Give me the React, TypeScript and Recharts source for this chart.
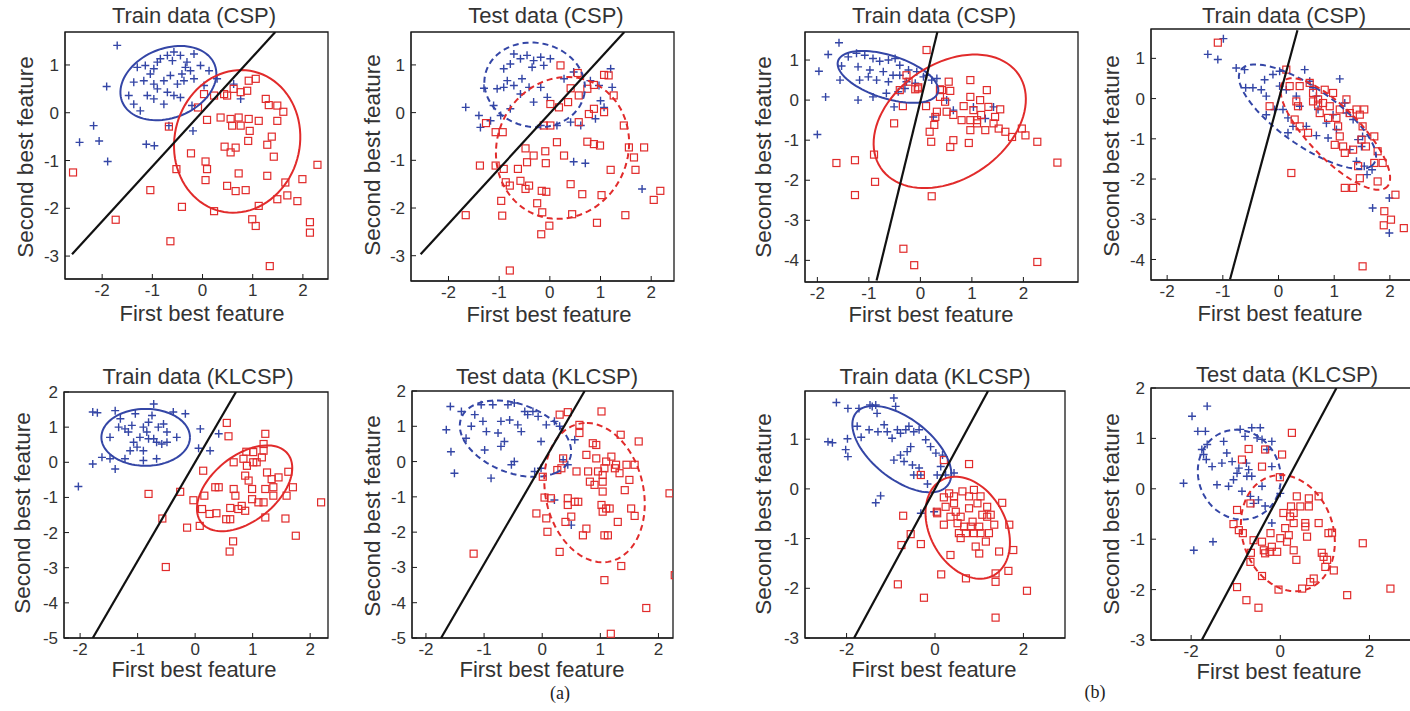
import React from 'react'
import { ScatterChart, Scatter, XAxis, YAxis, ReferenceArea } from 'recharts'

type Pt = [number, number]
// ellipse: [centerX, centerY, semiAxisA, semiAxisB, angleDeg]
type Ell = [number, number, number, number, number]

// ---- (a) Train data (CSP)
const p1Blue: Pt[] = [
  [-1.7, 1.41], [-1.91, 0.55], [-2.17, -0.27], [-2.45, -0.62], [-2.06, -0.59], [-1.89, -1.02], [-1.12, -0.66],
  [-0.96, -0.69], [-0.67, -0.27], [-0.19, -0.38], [-1.3, 0.95], [-1.14, 0.99], [-0.97, 0.92], [-0.84, 1.13],
  [-0.7, 1.2], [-0.57, 1.27], [-0.44, 1.2], [-0.31, 1.06], [-0.17, 1.23], [-0.04, 0.99], [0.13, 0.88],
  [-0.24, 0.88], [-0.41, 0.81], [-0.64, 0.78], [-0.77, 0.67], [-0.97, 0.6], [-1.17, 0.67], [-1.37, 0.64],
  [-1.47, 0.36], [-1.37, 0.18], [-1.1, 0.36], [-0.9, 0.5], [-0.7, 0.43], [-0.5, 0.6], [-0.37, 0.67],
  [-0.57, 0.36], [-0.44, 0.32], [-0.77, 0.18], [-0.97, 0.29], [-0.17, 0.71], [0.03, 0.57], [0.29, 0.71],
  [0.62, 0.6], [0.76, 0.29], [-0.21, 0.15], [-1.24, 0.04], [-0.6, 1.09], [-1.04, 0.81], [-0.34, 0.95], [-0.9, 1.06],
]
const p1Red: Pt[] = [
  [-2.58, -1.25], [-1.73, -2.24], [-1.04, -1.62], [-0.64, -2.69], [-0.41, -1.97], [-0.52, -1.18], [-0.67, -0.29],
  [-0.09, 0.11], [0.03, 0.39], [0.23, 0.36], [0.43, 0.39], [0.49, 0.36], [0.62, 0.5], [0.76, 0.43], [0.89, 0.46],
  [0.92, 0.67], [1.06, 0.71], [0.09, -0.15], [0.36, -0.1], [0.56, -0.13], [0.72, -0.1], [0.59, -0.27], [0.76, -0.27],
  [0.92, -0.13], [1.12, -0.17], [0.94, -0.38], [1.32, 0.16], [1.49, 0.15], [1.61, 0.02], [1.26, 0.29], [1.49, -0.17],
  [1.38, -0.5], [1.29, -0.67], [1.42, -0.92], [0.91, -0.59], [0.44, -0.71], [0.66, -0.73], [0.56, -0.83],
  [-0.23, -0.85], [0.06, -1.02], [0.09, -1.18], [0.06, -1.41], [0.72, -1.27], [1.29, -1.32], [0.49, -1.53],
  [0.66, -1.64], [0.86, -1.62], [0.23, -2.06], [1.12, -1.95], [1.49, -1.81], [1.69, -1.73], [1.65, -1.46],
  [1.89, -1.85], [1.99, -1.39], [2.29, -1.09], [0.99, -2.23], [1.06, -2.37], [2.14, -2.29], [2.14, -2.51], [1.34, -3.21],
]
const p1BlueEll: Ell = [-0.68, 0.62, 1.0, 0.72, 25]
const p1RedEll: Ell = [0.69, -0.6, 1.5, 1.25, 80]
const p1Line: Pt[] = [[-2.6, -2.96], [1.45, 1.69]]

// ---- (a) Test data (CSP)
const p2Blue: Pt[] = [
  [-1.66, 0.11], [-1.4, -0.06], [-1.37, -0.31], [-1.17, -0.17], [-0.97, -0.06], [-1.11, 0.15], [-1.3, 0.51],
  [-1.04, 0.5], [-0.91, 0.53], [-0.84, 0.67], [-0.91, 0.92], [-0.71, 1.23], [-0.58, 1.13], [-0.45, 1.2],
  [-0.32, 1.09], [-0.18, 1.16], [0.01, 1.13], [-0.12, 0.99], [-0.35, 0.95], [-0.55, 0.71], [-0.71, 0.57],
  [-0.58, 0.39], [-0.32, 0.22], [-0.18, 0.53], [-0.05, 0.32], [-0.41, 0.53], [-0.78, 1.02], [0.28, 0.71],
  [0.47, 0.85], [0.8, 0.67], [0.97, 0.57], [1.2, 0.92], [1.23, 0.53], [1.0, 0.25], [1.07, 0.11], [0.9, -0.13],
  [0.61, -0.27], [0.41, -0.2], [0.14, -0.27], [0.47, -1.03], [0.7, -1.06], [1.82, -1.6], [-0.18, -0.27], [-0.78, 0.08],
]
const p2Red: Pt[] = [
  [-1.66, -2.15], [-1.38, -1.11], [-1.26, -0.22], [-1.07, -0.41], [-0.93, -0.41], [-1.07, -1.11], [-0.91, -1.18],
  [-0.87, -1.46], [-0.79, -1.53], [-0.96, -1.85], [-0.94, -2.16], [-0.63, -1.18], [-0.58, -1.43], [-0.48, -1.6],
  [-0.41, -1.53], [-0.45, -1.04], [-0.48, -0.75], [-0.32, -0.9], [-0.09, -0.81], [-0.08, -1.06], [-0.16, -1.64],
  [-0.07, -1.66], [-0.25, -1.9], [-0.15, -2.09], [-0.01, -2.37], [-0.17, -2.55], [-0.79, -3.31], [-0.12, -0.27],
  [0.01, -0.27], [0.01, 0.18], [0.18, 0.11], [0.36, 0.22], [0.14, -0.62], [0.28, -0.9], [0.41, -1.5], [0.64, -1.71],
  [0.44, -2.13], [0.93, -2.31], [1.02, -1.73], [1.2, -1.2], [0.74, -0.61], [0.87, -0.66], [0.99, -0.69],
  [1.46, -0.27], [1.56, -0.73], [1.66, -0.94], [1.69, -1.2], [1.86, -0.73], [2.05, -1.83], [2.18, -1.64],
  [1.49, -2.15], [0.21, 0.99], [0.41, 0.51], [0.57, 0.36], [0.55, 0.83], [0.74, 0.5], [0.87, 0.58], [1.07, 0.79],
  [1.16, 0.78], [1.26, 0.36], [0.77, -0.03], [0.87, 0.08], [1.07, 0.01], [0.57, -0.2],
]
const p2BlueEll: Ell = [-0.3, 0.58, 1.0, 0.88, -15]
const p2RedEll: Ell = [0.25, -0.74, 1.5, 1.3, 75]
const p2Line: Pt[] = [[-2.55, -2.97], [1.47, 1.69]]

// ---- (b) Train data (CSP)
const p3Blue: Pt[] = [
  [-1.79, 1.14], [-1.58, 1.43], [-1.97, 0.72], [-1.84, 0.08], [-2.0, -0.86], [-1.53, 0.85], [-1.4, 1.08],
  [-1.24, 1.17], [-1.08, 1.12], [-0.92, 1.04], [-0.79, 0.97], [-0.62, 1.0], [-0.49, 1.04], [-0.4, 0.87],
  [-0.23, 0.75], [-0.07, 0.71], [0.06, 0.58], [0.22, 0.5], [-1.21, 0.83], [-1.01, 0.58], [-0.85, 0.5],
  [-0.72, 0.71], [-0.62, 0.46], [-0.53, 0.62], [-0.4, 0.62], [-0.27, 0.46], [-0.1, 0.42], [-0.98, 0.75],
  [-1.18, 0.5], [-0.92, 0.08], [-1.21, 0.0], [-0.66, 0.17], [-0.43, 0.21], [-0.3, 0.29], [0.32, 0.54],
  [-0.51, -0.17], [0.25, -0.42], [0.64, -0.25], [1.03, -0.17], [1.26, -0.46], [1.42, -0.17], [0.51, 0.0],
  [0.12, 0.62], [-1.56, 0.5],
]
const p3Red: Pt[] = [
  [-1.63, -1.57], [-1.27, -1.5], [-1.27, -2.37], [-0.88, -2.04], [-0.9, -1.36], [-0.51, -0.58], [-0.34, -0.15],
  [-0.4, 0.25], [-0.27, 0.62], [-0.23, 0.46], [-0.1, 0.27], [-0.04, 0.32], [0.12, 1.25], [0.21, -1.04],
  [0.22, -2.4], [-0.33, -3.71], [-0.12, -4.12], [2.27, -4.04], [2.66, -1.56], [2.27, -1.04], [2.04, -0.88],
  [1.97, -0.71], [1.78, -0.92], [1.65, -0.79], [1.52, -0.71], [1.55, -0.23], [1.45, -0.42], [1.32, -0.17],
  [1.29, 0.25], [1.26, -0.75], [1.16, 0.0], [1.18, -0.37], [1.1, -0.5], [1.03, -0.25], [0.97, 0.5], [0.97, 0.08],
  [0.97, -0.5], [0.97, -0.75], [0.94, -1.07], [0.84, -0.15], [0.8, -0.5], [0.64, -0.37], [0.55, 0.46],
  [0.58, 0.23], [0.48, -0.04], [0.42, 0.25], [0.38, 0.08], [0.32, -0.29], [0.29, -0.42], [0.27, -0.62],
  [0.18, -0.79], [0.11, -0.15], [0.58, -1.17], [0.64, -1.0], [0.51, -0.29], [1.42, -0.58], [1.1, -0.58],
  [0.38, 0.27], [-0.05, 0.29],
]
const p3BlueEll: Ell = [-0.63, 0.58, 1.05, 0.52, -25]
const p3RedEll: Ell = [0.57, -0.53, 1.83, 1.27, 55]
const p3Line: Pt[] = [[-0.85, -4.5], [0.33, 1.7]]

// ---- (b) Train data (CSP), second panel
const p4Blue: Pt[] = [
  [-1.27, 1.1], [-1.09, 0.97], [-0.99, 1.49], [-0.76, 0.76], [-0.61, 0.72], [-0.59, 0.27], [-0.46, 0.27],
  [-0.31, 0.22], [-0.22, 0.06], [-0.25, 0.47], [-0.1, 0.6], [0.02, 0.68], [0.02, 0.31], [0.14, 0.22],
  [-0.07, -0.27], [0.08, -0.27], [0.17, -0.48], [0.17, -0.85], [0.32, 0.06], [0.38, -0.19], [0.47, 0.72],
  [0.56, 0.43], [0.62, 0.27], [0.68, 0.06], [0.71, -0.27], [0.68, -0.92], [0.89, -0.98], [0.86, -0.61],
  [0.98, -0.4], [1.1, 0.49], [1.19, -0.11], [1.22, -0.36], [1.34, -0.52], [1.43, -1.02], [1.49, -1.19],
  [1.51, -0.94], [1.4, -1.56], [1.54, -1.68], [1.59, -1.89], [1.68, -1.77], [1.69, -2.72], [1.99, -2.47],
  [1.99, -3.34], [0.26, -0.69], [-0.22, -0.4], [0.5, -0.69], [1.04, -0.77], [1.28, -1.27],
]
const p4Red: Pt[] = [
  [-1.09, 1.39], [0.14, 0.72], [0.2, 0.31], [0.38, 0.31], [0.56, 0.39], [0.32, -0.07], [0.35, -0.19],
  [0.29, -0.52], [0.38, -0.69], [0.53, -0.85], [0.23, -1.85], [-0.16, -0.19], [0.62, 0.14], [0.71, -0.02],
  [0.8, -0.11], [0.83, 0.22], [0.74, -0.36], [0.89, -0.48], [0.92, -0.19], [1.04, -0.48], [1.07, -0.69],
  [1.1, -0.94], [1.01, -1.15], [1.16, -1.19], [1.19, -1.35], [1.22, -0.02], [1.28, -0.36], [1.4, -0.27],
  [1.46, -0.4], [1.54, -0.27], [1.51, -0.69], [1.49, -1.02], [1.57, -1.19], [1.34, -1.27], [1.43, -1.68],
  [1.46, -1.98], [1.34, -2.22], [1.19, -2.22], [1.72, -0.94], [1.78, -1.31], [1.72, -1.6], [1.87, -1.6],
  [1.78, -2.06], [2.1, -2.39], [1.9, -2.8], [2.02, -3.01], [1.89, -3.15], [2.25, -3.22], [1.51, -4.17],
  [0.62, -0.07], [0.98, 0.14], [0.71, -0.15], [1.1, -0.27],
]
const p4BlueEll: Ell = [0.52, -0.45, 1.68, 0.62, -47]
const p4RedEll: Ell = [1.02, -0.88, 1.62, 0.52, -57]
const p4Line: Pt[] = [[-0.87, -4.49], [0.34, 1.7]]

// ---- (a) Train data (KLCSP)
const p5Blue: Pt[] = [
  [-1.78, 1.43], [-1.7, 1.41], [-1.78, -0.05], [-2.03, -0.69], [-1.39, -0.19], [-1.62, 0.14], [-1.48, 0.1],
  [-1.39, 1.47], [-1.3, 1.24], [-1.33, 1.0], [-1.48, 0.71], [-1.22, 0.95], [-1.16, 0.86], [-1.1, 1.05],
  [-1.04, 1.38], [-1.07, 0.57], [-1.01, 0.43], [-0.96, 0.71], [-0.9, 1.0], [-0.9, 0.33], [-0.84, 0.86],
  [-0.81, 1.14], [-0.75, 1.33], [-0.72, 1.66], [-0.72, 0.67], [-0.67, 0.57], [-0.64, 1.0], [-0.55, 1.09],
  [-0.49, 0.86], [-0.58, 0.52], [-0.49, 0.57], [-0.38, 1.43], [-1.22, 0.1], [-0.9, 0.05], [-0.67, 0.1],
  [-0.17, 1.38], [0.09, 0.95], [0.26, 0.33], [0.41, 0.81], [0.06, 0.4], [-0.32, 0.71], [-1.13, 0.33], [-0.81, 0.67],
]
const p5Red: Pt[] = [
  [-0.81, -0.9], [-0.57, -1.6], [-0.51, -2.98], [-0.26, -0.84], [-0.14, -1.86], [-0.03, -1.08], [0.08, -1.81],
  [0.12, -1.33], [0.14, -0.24], [0.16, -0.95], [0.25, -1.47], [0.37, -1.45], [0.35, -0.71], [0.41, -0.71],
  [0.55, 1.12], [0.58, 0.74], [0.54, -1.62], [0.61, -1.62], [0.61, -1.3], [0.66, -2.25], [0.6, -2.54],
  [0.67, -0.76], [0.7, -0.95], [0.75, -1.33], [0.81, -1.24], [0.87, -1.38], [0.89, 0.3], [0.84, 0.1],
  [0.9, -0.1], [0.87, -0.38], [0.93, -0.52], [0.99, -0.76], [0.99, -1.05], [1.01, 0.29], [1.07, 0.0],
  [1.16, 0.14], [1.19, 0.33], [1.22, 0.81], [1.19, 0.52], [1.25, -0.29], [1.33, -0.48], [1.36, -0.71],
  [1.45, -0.43], [1.22, -0.76], [1.19, -1.14], [1.22, -1.57], [1.1, -1.14], [1.59, -0.95], [1.62, -0.27],
  [1.7, -0.71], [1.57, -1.6], [1.75, -2.09], [2.19, -1.14], [0.67, 0.0], [1.01, 0.0], [1.36, -0.95],
]
const p5BlueEll: Ell = [-0.86, 0.71, 0.77, 0.81, 0]
const p5RedEll: Ell = [0.86, -0.74, 1.31, 0.68, 65]
const p5Line: Pt[] = [[-1.78, -5], [0.71, 2]]

// ---- (a) Test data (KLCSP)
const p6Blue: Pt[] = [
  [-1.58, 1.56], [-1.65, 0.9], [-1.57, 0.28], [-1.51, -0.33], [-1.39, 1.42], [-1.31, 0.66], [-1.22, 1.0],
  [-1.16, 1.33], [-1.02, 1.14], [-0.99, 0.33], [-0.96, 0.85], [-0.88, -0.47], [-0.85, 1.61], [-0.76, 0.81],
  [-0.71, 0.43], [-0.65, 0.57], [-0.59, 1.61], [-0.56, 1.18], [-0.48, 1.66], [-0.42, 1.04], [-0.36, 0.85],
  [-0.53, -0.09], [-0.48, 0.0], [-0.3, 1.42], [-0.25, 1.33], [-0.16, 1.42], [-0.07, 1.28], [0.07, 1.04],
  [0.21, 1.14], [-0.13, -0.28], [-0.02, -0.19], [0.21, -1.09], [0.5, -1.8], [0.36, 0.05], [0.44, -0.09],
  [0.56, 0.62], [0.3, 1.0], [-0.02, 0.57], [-0.71, 1.14], [-1.05, 1.61],
]
const p6Red: Pt[] = [
  [-1.18, -2.61], [-0.1, -1.47], [0.01, -0.43], [0.04, -1.02], [0.07, -1.61], [0.09, -1.99], [0.15, -1.04],
  [0.3, -2.56], [0.26, -0.24], [0.33, -0.19], [0.3, 1.33], [0.44, 1.4], [0.36, 0.09], [0.4, -1.71],
  [0.44, -1.04], [0.44, -1.23], [0.5, -1.56], [0.56, -1.14], [0.59, -0.28], [0.64, 1.04], [0.64, 0.81],
  [0.62, -1.14], [0.76, -1.9], [0.7, -2.09], [0.76, 0.19], [0.79, -0.28], [0.82, -0.57], [0.87, 0.52],
  [0.93, 0.47], [0.93, 0.09], [0.96, -0.28], [1.02, 1.42], [1.04, -0.38], [1.04, -0.57], [1.04, -0.85],
  [1.02, -1.23], [1.04, -1.42], [1.1, -1.33], [1.16, -1.33], [1.07, -2.09], [1.13, -2.09], [1.07, -3.36],
  [1.07, -0.19], [1.1, 0.0], [1.19, 0.14], [1.25, -0.19], [1.27, -0.09], [1.33, -0.33], [1.35, 0.76],
  [1.45, -0.09], [1.3, -1.71], [1.36, -2.96], [1.42, -0.81], [1.5, -0.52], [1.53, -1.33], [1.59, -1.54],
  [1.66, 0.57], [1.79, -4.15], [1.18, -4.88], [2.19, -0.9], [2.28, -3.22], [1.59, -0.09], [0.9, -0.66],
]
const p6BlueEll: Ell = [-0.46, 0.65, 1.19, 0.82, -55]
const p6RedEll: Ell = [0.9, -0.88, 1.98, 0.85, 95]
const p6Line: Pt[] = [[-1.74, -5], [0.73, 2]]

// ---- (b) Train data (KLCSP)
const p7Blue: Pt[] = [
  [-2.23, 1.74], [-1.97, 1.62], [-2.42, 0.95], [-2.32, 0.93], [-1.98, 1.01], [-2.02, 0.79], [-1.97, 0.65],
  [-1.72, 1.62], [-1.47, 1.69], [-1.42, 1.66], [-1.34, 1.69], [-1.31, 1.52], [-1.76, 1.26], [-1.67, 1.04],
  [-1.49, 1.19], [-1.29, 1.15], [-1.15, 1.29], [-1.08, 1.15], [-0.97, 1.02], [-0.93, 1.83], [-0.89, 1.66],
  [-0.85, 1.19], [-0.78, 1.12], [-0.66, 1.19], [-0.59, 1.26], [-0.48, 1.15], [-0.36, 1.19], [-0.21, 0.99],
  [-0.55, 0.85], [-0.63, 0.75], [-0.78, 0.68], [-0.93, 0.58], [-0.7, 0.55], [-0.51, 0.48], [-0.36, 0.42],
  [-0.32, 0.28], [-0.48, 0.28], [-0.1, 0.85], [0.02, 0.72], [0.17, 0.68], [0.13, 0.45], [0.24, 0.28],
  [0.43, 0.32], [-0.17, 0.1], [-1.34, -0.28], [-1.23, -0.14], [-0.32, -0.49], [-0.02, -0.46], [0.05, 0.28],
]
const p7Red: Pt[] = [
  [-0.84, -1.92], [-0.25, -2.19], [-0.72, -0.54], [-0.76, -1.13], [-0.55, -0.91], [-0.32, -1.11], [-0.32, 0.28],
  [0.04, -0.46], [0.14, -1.72], [0.2, 0.58], [0.2, -0.17], [0.24, -0.36], [0.2, -0.72], [0.35, -1.33],
  [0.32, -0.09], [0.43, -0.15], [0.43, -0.29], [0.47, -0.46], [0.51, -0.69], [0.54, -0.89], [0.58, -0.56],
  [0.62, -0.05], [0.66, -0.76], [0.7, -0.89], [0.7, -1.8], [0.77, 0.5], [0.77, -0.15], [0.77, -0.39],
  [0.81, -0.76], [0.85, -0.66], [0.88, -0.02], [0.88, -0.89], [0.92, -1.16], [0.96, -0.29], [1.0, -0.76],
  [1.0, -1.3], [1.03, -0.89], [1.03, -0.15], [1.07, -0.52], [1.15, -1.06], [1.18, -0.36], [1.22, -0.89],
  [1.26, -0.52], [1.34, -0.72], [1.37, -1.7], [1.37, -1.87], [1.37, -2.59], [1.45, -1.26], [1.52, -0.28],
  [1.66, -1.65], [1.68, -0.72], [1.77, -1.23], [2.08, -2.05], [0.05, -0.49], [0.35, -0.56], [0.58, -0.99], [1.18, -0.56],
]
const p7BlueEll: Ell = [-0.75, 0.8, 1.27, 0.63, -33]
const p7RedEll: Ell = [0.74, -0.78, 1.13, 0.83, -52]
const p7Line: Pt[] = [[-1.83, -3], [1.2, 1.97]]

// ---- (b) Test data (KLCSP)
const p8Blue: Pt[] = [
  [-1.98, 1.44], [-1.64, 1.64], [-2.17, 0.11], [-1.94, -1.22], [-1.51, -1.05], [-1.85, 1.14], [-1.68, 1.14],
  [-1.76, 0.78], [-1.72, 0.68], [-1.64, 0.88], [-1.66, 0.58], [-1.53, 0.44], [-1.42, 0.08], [-1.31, 0.51],
  [-1.27, 0.94], [-1.2, 0.71], [-1.08, 0.54], [-1.05, 0.18], [-0.97, 0.31], [-0.93, 0.41], [-0.9, 1.18],
  [-0.86, -0.05], [-0.79, 1.04], [-0.76, 0.51], [-0.71, 0.38], [-0.64, 1.21], [-0.64, 0.25], [-0.52, 1.01],
  [-0.45, 1.21], [-0.41, 0.98], [-0.41, 0.05], [-0.49, -0.22], [-0.6, -0.29], [-0.67, -0.15], [-0.19, 0.94],
  [-0.3, 0.78], [-0.19, 0.44], [-0.19, -0.68], [-0.34, -0.34], [0.0, -0.09], [-0.75, 0.25], [-1.16, 0.05],
]
const p8Red: Pt[] = [
  [-1.05, -0.7], [-0.93, -0.82], [-0.84, -0.88], [-0.97, -1.95], [-0.76, -2.21], [-0.49, -2.36], [-0.67, -1.45],
  [-0.66, -1.27], [-0.6, -1.02], [-0.41, -1.73], [-0.41, -1.05], [-0.37, -1.22], [-0.34, -1.28], [-0.24, -1.25],
  [-0.22, -0.88], [-0.19, -1.15], [-0.07, -1.25], [-0.04, -2.0], [0.0, -0.98], [0.04, 0.68], [-0.01, 0.23],
  [0.07, -0.48], [0.11, -0.78], [0.15, -1.05], [0.19, -0.92], [0.22, -0.55], [0.24, -0.35], [0.26, 1.11],
  [0.3, -0.48], [0.3, -0.68], [0.3, -1.22], [0.37, -0.15], [0.36, -1.41], [0.45, -0.35], [0.49, -1.98],
  [0.56, -0.68], [0.56, -0.75], [0.6, -0.95], [0.64, -0.35], [0.64, -0.19], [0.67, -1.85], [0.75, -1.78],
  [0.86, -0.68], [0.86, -0.15], [0.93, -1.27], [0.97, -1.35], [1.01, -1.55], [1.05, -1.41], [1.08, -0.88],
  [1.16, -0.87], [1.2, -1.62], [-0.41, 0.44], [-0.34, 0.78], [-0.71, 0.79], [-0.86, 0.58], [-0.97, -0.42],
  [-0.67, -0.29], [1.85, -1.08], [1.5, -2.11], [2.47, -1.98],
]
const p8BlueEll: Ell = [-0.92, 0.28, 0.95, 0.87, -30]
const p8RedEll: Ell = [0.17, -0.88, 1.2, 1.0, -60]
const p8Line: Pt[] = [[-1.76, -3], [1.26, 2]]

const BLUE = '#3446a6'
const RED = '#e12b2b'
const TEXT = '#333'
const AXIS = '#1a1a1a'
const SANS = '"Liberation Sans", Arial, Helvetica, sans-serif'

// layout only: where each plot box sits on the page
const panels = [
  { title: 'Train data (CSP)', box: [65, 32, 263, 247], xd: [-2.74, 2.5], yd: [-3.48, 1.69], xt: [-2, -1, 0, 1, 2], yt: [-3, -2, -1, 0, 1], blue: p1Blue, red: p1Red, be: p1BlueEll, re: p1RedEll, line: p1Line, dashed: false, tc: [194, 16], xc: [202, 314], yc: [26, 157] },
  { title: 'Test data (CSP)', box: [411, 32, 263, 249], xd: [-2.74, 2.45], yd: [-3.53, 1.69], xt: [-2, -1, 0, 1, 2], yt: [-3, -2, -1, 0, 1], blue: p2Blue, red: p2Red, be: p2BlueEll, re: p2RedEll, line: p2Line, dashed: true, tc: [546, 16], xc: [549, 315], yc: [373, 155] },
  { title: 'Train data (CSP)', box: [805, 32, 273, 250], xd: [-2.24, 3.06], yd: [-4.54, 1.7], xt: [-2, -1, 0, 1, 2], yt: [-4, -3, -2, -1, 0, 1], blue: p3Blue, red: p3Red, be: p3BlueEll, re: p3RedEll, line: p3Line, dashed: false, tc: [934, 16], xc: [931, 315], yc: [764, 157] },
  { title: 'Train data (CSP)', box: [1151, 29, 289, 251], xd: [-2.29, 2.9], yd: [-4.51, 1.73], xt: [-2, -1, 0, 1, 2], yt: [-4, -3, -2, -1, 0, 1], blue: p4Blue, red: p4Red, be: p4BlueEll, re: p4RedEll, line: p4Line, dashed: true, tc: [1284, 16], xc: [1280, 314], yc: [1112, 156] },
  { title: 'Train data (KLCSP)', box: [64, 392, 264, 246], xd: [-2.28, 2.31], yd: [-5, 2], xt: [-2, -1, 0, 1, 2], yt: [-5, -4, -3, -2, -1, 0, 1, 2], blue: p5Blue, red: p5Red, be: p5BlueEll, re: p5RedEll, line: p5Line, dashed: false, tc: [198, 377], xc: [194, 670], yc: [23, 513] },
  { title: 'Test data (KLCSP)', box: [412, 391, 261, 247], xd: [-2.24, 2.25], yd: [-5, 2], xt: [-2, -1, 0, 1, 2], yt: [-5, -4, -3, -2, -1, 0, 1, 2], blue: p6Blue, red: p6Red, be: p6BlueEll, re: p6RedEll, line: p6Line, dashed: true, tc: [547, 377], xc: [542, 670], yc: [373, 516] },
  { title: 'Train data (KLCSP)', box: [805, 391, 260, 247], xd: [-2.94, 2.94], yd: [-3, 1.97], xt: [-2, 0, 2], yt: [-3, -2, -1, 0, 1], blue: p7Blue, red: p7Red, be: p7BlueEll, re: p7RedEll, line: p7Line, dashed: false, tc: [935, 377], xc: [934, 670], yc: [764, 514] },
  { title: 'Test data (KLCSP)', box: [1151, 388, 280, 252], xd: [-2.9, 3.38], yd: [-3, 2], xt: [-2, 0, 2], yt: [-3, -2, -1, 0, 1, 2], blue: p8Blue, red: p8Red, be: p8BlueEll, re: p8RedEll, line: p8Line, dashed: true, tc: [1287, 375], xc: [1279, 672], yc: [1112, 514] },
]

const toXY = (pts: Pt[]) => pts.map(([x, y]) => ({ x, y }))

// outline of an ellipse given its centre, semi-axes and tilt
function ellipse([cx, cy, a, b, deg]: Ell) {
  const th = (deg * Math.PI) / 180
  const out: { x: number; y: number }[] = []
  for (let i = 0; i <= 90; i++) {
    const t = (i / 90) * 2 * Math.PI
    out.push({
      x: cx + a * Math.cos(t) * Math.cos(th) - b * Math.sin(t) * Math.sin(th),
      y: cy + a * Math.cos(t) * Math.sin(th) + b * Math.sin(t) * Math.cos(th),
    })
  }
  return out
}

const Plus = (p: any) => (
  <path d={`M${p.cx - 4},${p.cy}H${p.cx + 4}M${p.cx},${p.cy - 4}V${p.cy + 4}`} stroke={BLUE} strokeWidth={1.4} fill="none" />
)
const Square = (p: any) => (
  <rect x={p.cx - 3.5} y={p.cy - 3.5} width={7} height={7} fill="none" stroke={RED} strokeWidth={1.2} />
)
const Nothing = () => <g />

const tickStyle = { fontSize: 17, fill: TEXT, fontFamily: SANS }

function Panel({ cfg }: { cfg: (typeof panels)[number] }) {
  const [left, top, w, h] = cfg.box
  const dash = cfg.dashed ? '6 4' : undefined
  return (
    <>
      <div style={{ position: 'absolute', left: left - 50, top: top - 10 }}>
        <ScatterChart width={w + 60} height={h + 40} margin={{ top: 10, right: 10, bottom: 0, left: 0 }}>
          <XAxis type="number" dataKey="x" domain={cfg.xd} ticks={cfg.xt} allowDataOverflow interval={0}
            tickSize={-5} tickMargin={10} height={30} stroke={AXIS} axisLine={{ stroke: AXIS }}
            tickLine={{ stroke: AXIS }} tick={tickStyle} />
          <YAxis type="number" dataKey="y" domain={cfg.yd} ticks={cfg.yt} allowDataOverflow interval={0}
            tickSize={-5} tickMargin={11} width={50} stroke={AXIS} axisLine={{ stroke: AXIS }}
            tickLine={{ stroke: AXIS }} tick={tickStyle} />
          <XAxis xAxisId="top" orientation="top" type="number" domain={cfg.xd} ticks={cfg.xt} allowDataOverflow
            tickSize={-5} height={0} stroke={AXIS} tickLine={{ stroke: AXIS }} tick={false} />
          <YAxis yAxisId="right" orientation="right" type="number" domain={cfg.yd} ticks={cfg.yt} allowDataOverflow
            tickSize={-5} width={0} stroke={AXIS} tickLine={{ stroke: AXIS }} tick={false} />
          <Scatter data={toXY(cfg.blue)} shape={Plus} isAnimationActive={false} />
          <Scatter data={toXY(cfg.red)} shape={Square} isAnimationActive={false} />
          <Scatter data={ellipse(cfg.be)} shape={Nothing} line={{ stroke: BLUE, strokeWidth: 2, strokeDasharray: dash }} isAnimationActive={false} />
          <Scatter data={ellipse(cfg.re)} shape={Nothing} line={{ stroke: RED, strokeWidth: 2, strokeDasharray: dash }} isAnimationActive={false} />
          <Scatter data={toXY(cfg.line)} shape={Nothing} line={{ stroke: '#111', strokeWidth: 2.2 }} isAnimationActive={false} />
          <ReferenceArea x1={cfg.xd[0]} x2={cfg.xd[1]} y1={cfg.yd[0]} y2={cfg.yd[1]} fill="none" fillOpacity={0}
            stroke={AXIS} strokeWidth={1.3} ifOverflow="visible" />
        </ScatterChart>
      </div>
      <div style={{ ...label, left: cfg.tc[0], top: cfg.tc[1], fontSize: 22 }}>{cfg.title}</div>
      <div style={{ ...label, left: cfg.xc[0], top: cfg.xc[1], fontSize: 22 }}>First best feature</div>
      <div style={{ ...label, left: cfg.yc[0], top: cfg.yc[1], fontSize: 22.5, transform: 'translate(-50%, -50%) rotate(-90deg)' }}>
        Second best feature
      </div>
    </>
  )
}

const label: React.CSSProperties = {
  position: 'absolute',
  transform: 'translate(-50%, -50%)',
  whiteSpace: 'nowrap',
  fontFamily: SANS,
  color: TEXT,
  lineHeight: 1,
}

const panelTag: React.CSSProperties = {
  position: 'absolute',
  transform: 'translate(-50%, -50%)',
  fontFamily: '"Liberation Serif", serif',
  fontSize: 18,
  lineHeight: 1,
  color: '#222',
}

export default function App() {
  return (
    <div style={{ position: 'absolute', left: 0, top: 0, width: 1410, height: 711, overflow: 'hidden', background: '#fff' }}>
      {panels.map((p, i) => (
        <Panel key={i} cfg={p} />
      ))}
      <div style={{ ...panelTag, left: 560, top: 693 }}>(a)</div>
      <div style={{ ...panelTag, left: 1095, top: 692 }}>(b)</div>
    </div>
  )
}
